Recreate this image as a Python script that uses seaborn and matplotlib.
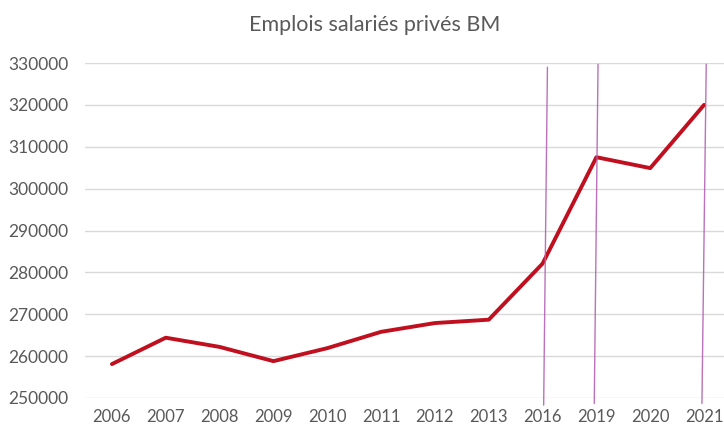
import pandas as pd
import matplotlib.pyplot as plt
import seaborn as sns

# data
annees = ["2006", "2007", "2008", "2009", "2010", "2011", "2012", "2013",
          "2016", "2019", "2020", "2021"]
emplois = [258100, 264400, 262200, 258800, 261900, 265800, 267900, 268700,
           282100, 307500, 304900, 320000]

# traits violets (dessinés à la main sur l'original)
traits_annees = ["2016", "2019", "2021"]
traits_haut_dx = [0.09, 0.03, 0.04]
traits_bas_dx = [0.02, -0.04, -0.04]
traits_haut_y = [329000, 329700, 329700]
traits_bas_y = [248300, 248700, 248700]

df = pd.DataFrame({"annee": annees, "emplois": emplois})

sns.set_theme(style="white")
plt.rcParams["font.family"] = ["Lato", "DejaVu Sans"]

fig = plt.figure(figsize=(7.24, 4.30), dpi=100)
ax = fig.add_axes([85 / 724, 32 / 430, 646 / 724, 335 / 430])

sns.lineplot(data=df, x="annee", y="emplois", color="#C00F1E", linewidth=2.8,
             ax=ax, sort=False)

for an, dh, db, yh, yb in zip(traits_annees, traits_haut_dx, traits_bas_dx,
                              traits_haut_y, traits_bas_y):
    i = annees.index(an)
    ax.plot([i + dh, i + db], [yh, yb], color="#B462B4", linewidth=1.0,
            alpha=0.9, clip_on=False, zorder=3)

ax.set_xlim(-0.5, len(annees) - 0.5)
ax.set_ylim(250000, 330000)
ax.set_yticks(range(250000, 330001, 10000))
ax.yaxis.grid(True, color="#D9D9D9", linewidth=1)
ax.xaxis.grid(False)
for s in ax.spines.values():
    s.set_visible(False)
ax.tick_params(axis="both", labelcolor="#595959", length=0)
ax.tick_params(axis="x", labelsize=12, pad=8)
ax.tick_params(axis="y", labelsize=12.5, pad=12)
ax.set_xlabel("")
ax.set_ylabel("")
fig.text(375 / 724, 1 - 25 / 430, "Emplois salariés privés BM", ha="center",
         va="center", fontsize=15.5, color="#595959")

fig.savefig("out.png", dpi=100)
